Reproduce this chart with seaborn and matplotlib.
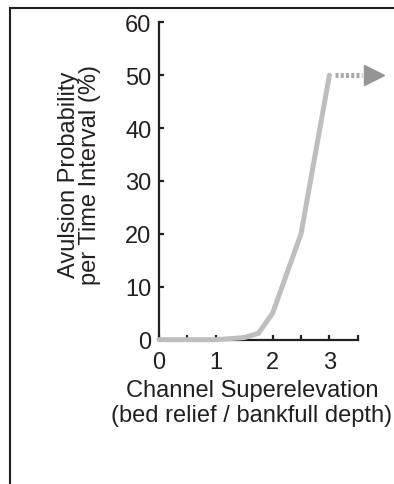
import matplotlib
matplotlib.use("Agg")
import matplotlib.pyplot as plt
import seaborn as sns
import pandas as pd
from matplotlib.patches import Rectangle

sns.set_theme(style="white")
plt.rcParams['font.family'] = ['Liberation Sans', 'DejaVu Sans']

# Data
superelevation = [0.0, 1.0, 1.5, 1.75, 2.0, 2.5, 3.0]
probability = [0.0, 0.0, 0.4, 1.2, 5.0, 20.0, 50.0]
ext_x = [3.1, 3.58]          # dotted continuation beyond the data
ext_y = [50.0, 50.0]
arrow_x = [3.785]
arrow_y = [50.0]
x_ticks = [0, 0.5, 1, 1.5, 2, 2.5, 3, 3.5]
x_ticklabels = ["0", "", "1", "", "2", "", "3", ""]
y_ticks = [0, 10, 20, 30, 40, 50, 60]

df = pd.DataFrame({"x": superelevation, "y": probability})

W, H = 394, 485
fig = plt.figure(figsize=(W / 100, H / 100), dpi=100)
ax = fig.add_axes([159 / W, (H - 340.7) / H, 198.8 / W, 317.4 / H])

dark = "#231f20"
fs = 17
sns.lineplot(data=df, x="x", y="y", ax=ax, color="#bcbec0", linewidth=3.6,
             sort=False, clip_on=False, zorder=5, solid_joinstyle="miter")
ax.plot(ext_x, ext_y, color="#a7a9ac", linewidth=3.6, linestyle=(0, (0.6, 0.45)),
        clip_on=False, zorder=5, dash_capstyle="butt")
ax.plot(arrow_x, arrow_y, marker=">", markersize=14, color="#939598",
        linestyle="none", clip_on=False, zorder=6)

ax.set_xlim(0, 3.5)
ax.set_ylim(0, 60)
ax.set_xticks(x_ticks)
ax.set_xticklabels(x_ticklabels)
ax.set_yticks(y_ticks)

for side in ["top", "right"]:
    ax.spines[side].set_visible(False)
for side in ["left", "bottom"]:
    ax.spines[side].set_color(dark)
    ax.spines[side].set_linewidth(1.6)

ax.tick_params(axis="both", direction="in", length=3.5, width=1.6, color=dark,
               labelsize=fs, labelcolor=dark, pad=5.5)
ax.tick_params(axis="x", pad=8)
ax.tick_params(left=True, bottom=True)

ax.set_xlabel("Channel Superelevation\n(bed relief / bankfull depth)",
              fontsize=fs, color=dark, va="center", linespacing=1.15)
ax.xaxis.set_label_coords(0.468, -0.198)
ax.set_ylabel("Avulsion Probability\nper Time Interval (%)",
              fontsize=fs, color=dark, va="center", linespacing=0.95)
ax.yaxis.set_label_coords(-0.40, 0.522)

# figure frame (left and top edges visible)
fig.patches.append(Rectangle((10 / W, -0.1), 1.2, 1.1 - 9.3 / H,
                             transform=fig.transFigure, fill=False,
                             edgecolor=dark, linewidth=1.5))

fig.savefig("out.png", dpi=100)
